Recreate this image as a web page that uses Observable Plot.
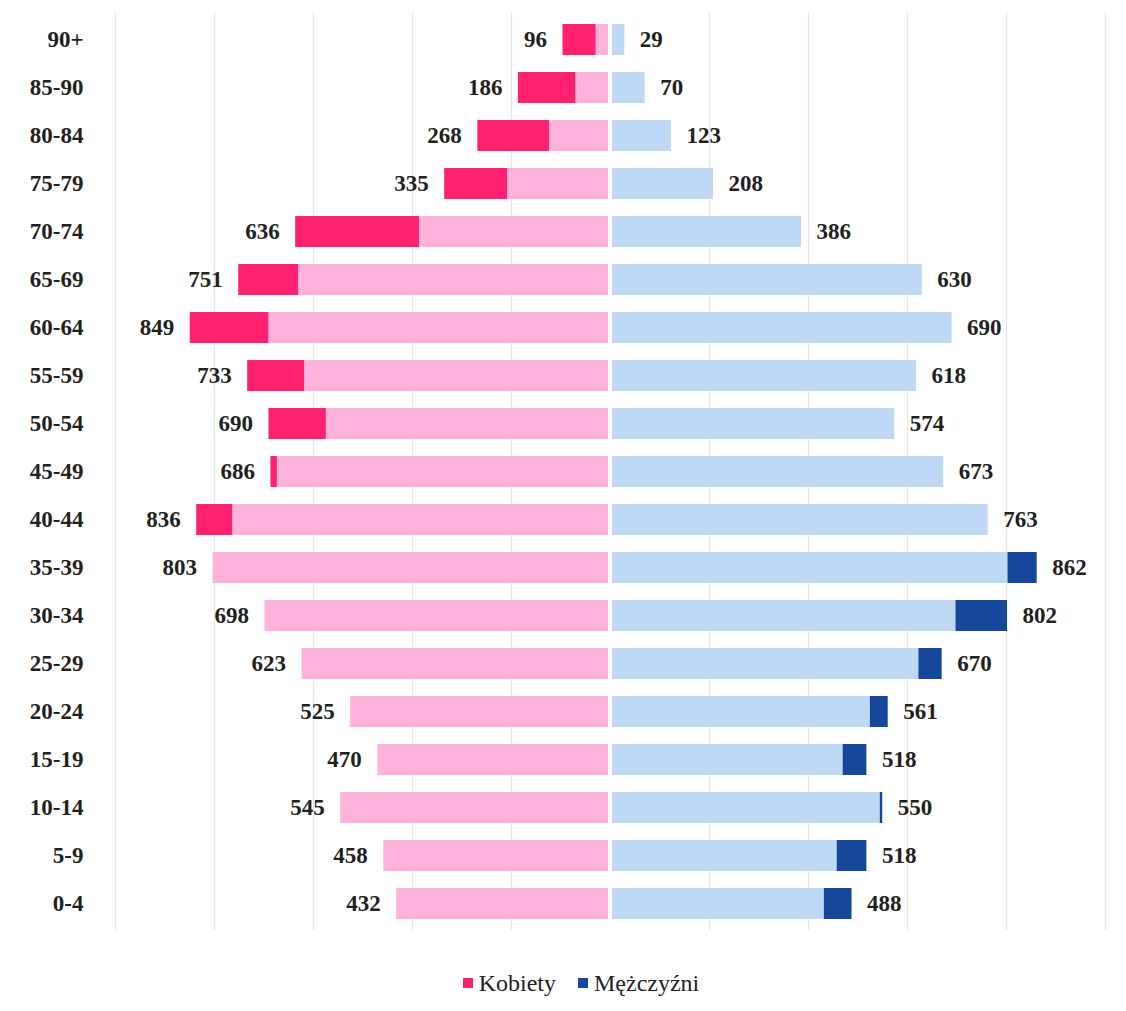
<!DOCTYPE html>
<html>
<head>
<meta charset="utf-8">
<script src="https://cdn.jsdelivr.net/npm/d3@7"></script>
<script src="https://cdn.jsdelivr.net/npm/@observablehq/plot@0.6"></script>
<style>
  html, body { margin: 0; padding: 0; background: #fff; }
  #wrap { width: 1126px; height: 1011px; position: relative; overflow: hidden; }
  #legend { display: flex; justify-content: center; align-items: center; padding-left: 36px;
            font-family: "Liberation Serif", Tinos, "Times New Roman", Times, "DejaVu Serif", serif; font-size: 24px; color: #222;
            height: 40px; margin-top: 8px; }
  #legend .sw { width: 10px; height: 10px; display: inline-block; margin-right: 6px; }
  #legend .item { display: flex; align-items: center; margin: 0 11px; }
  svg text { font-family: "Liberation Serif", Tinos, "Times New Roman", Times, "DejaVu Serif", serif !important; }
</style>
</head>
<body>
<div id="wrap">
  <div id="chart"></div>
  <div id="legend"></div>
</div>
<script>
const ages = ["90+","85-90","80-84","75-79","70-74","65-69","60-64","55-59","50-54","45-49","40-44","35-39","30-34","25-29","20-24","15-19","10-14","5-9","0-4"];
const women = [96,186,268,335,636,751,849,733,690,686,836,803,698,623,525,470,545,458,432];
const men = [29,70,123,208,386,630,690,618,574,673,763,862,802,670,561,518,550,518,488];
const gridTicks = [-1000,-800,-600,-400,-200,200,400,600,800,1000];
const seriesNames = ["Kobiety","Mężczyźni"];

const colors = {
  womenDark: "#ff2170",
  womenLight: "#ffb3db",
  menLight: "#bfd8f6",
  menDark: "#15489b"
};

const rows = ages.map((a, i) => ({
  age: a,
  w: women[i],
  m: men[i],
  lo: Math.min(women[i], men[i])
}));

const font = "'Liberation Serif', Tinos, 'Times New Roman', 'DejaVu Serif', serif";

const chart = Plot.plot({
  width: 1126,
  height: 955,
  marginLeft: 115,
  marginRight: 21,
  marginTop: 12,
  marginBottom: 25,
  style: { fontFamily: font, background: "#fff" },
  x: { domain: [-1000, 1000], axis: null },
  y: { domain: ages, paddingInner: 0.36, paddingOuter: 0.2, label: null, tickSize: 0, tickPadding: 32 },
  marks: [
    Plot.ruleX(gridTicks, { stroke: "#e6e6e6", strokeWidth: 1.2 }),
    Plot.barX(rows, { y: "age", x1: d => -d.lo, x2: 0, insetRight: 2, fill: colors.womenLight }),
    Plot.barX(rows.filter(d => d.w > d.m), { y: "age", x1: d => -d.w, x2: d => -d.lo, fill: colors.womenDark }),
    Plot.barX(rows, { y: "age", x1: 0, x2: d => d.lo, insetLeft: 2, fill: colors.menLight }),
    Plot.barX(rows.filter(d => d.m > d.w), { y: "age", x1: d => d.lo, x2: d => d.m, fill: colors.menDark }),
    Plot.text(rows, { y: "age", x: d => -d.w, text: d => String(d.w), textAnchor: "end", dx: -16,
      fontSize: 23, fontWeight: "bold", fill: "#231f20" }),
    Plot.text(rows, { y: "age", x: d => d.m, text: d => String(d.m), textAnchor: "start", dx: 15,
      fontSize: 23, fontWeight: "bold", fill: "#231f20" }),
    Plot.axisY({ tickSize: 0, tickPadding: 32, fontSize: 23, fontWeight: "bold", fill: "#231f20", label: null })
  ]
});
document.getElementById("chart").appendChild(chart);

const legend = document.getElementById("legend");
[[seriesNames[0], colors.womenDark], [seriesNames[1], colors.menDark]].forEach(([name, c]) => {
  const it = document.createElement("span");
  it.className = "item";
  const sw = document.createElement("span");
  sw.className = "sw";
  sw.style.background = c;
  it.appendChild(sw);
  it.appendChild(document.createTextNode(name));
  legend.appendChild(it);
});
</script>
</body>
</html>
